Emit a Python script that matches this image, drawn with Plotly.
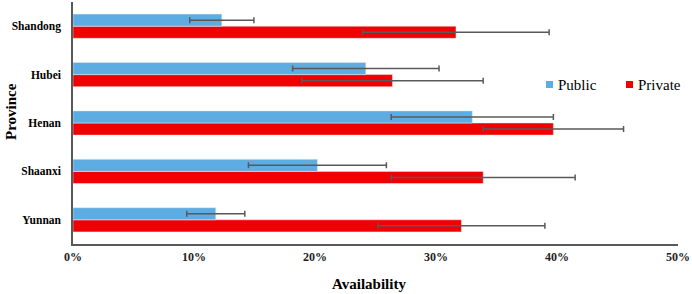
import plotly.graph_objects as go

provinces = ["Yunnan", "Shaanxi", "Henan", "Hubei", "Shandong"]
public_vals = [11.8, 20.2, 33.0, 24.2, 12.3]
public_err = [2.4, 5.7, 6.7, 6.05, 2.65]
private_vals = [32.1, 33.9, 39.7, 26.4, 31.65]
private_err = [6.9, 7.6, 5.8, 7.5, 7.7]
x_ticks = [0, 10, 20, 30, 40, 50]
x_tick_labels = ["0%", "10%", "20%", "30%", "40%", "50%"]
series_names = ["Public", "Private"]
series_colors = ["#5DADE2", "#F00000"]

serif = "Liberation Serif"
err_color = "#595959"

W, H = 692, 294
ML, MR, MT, MB = 73, 14, 2, 50

fig = go.Figure()
fig.add_trace(go.Bar(
    y=provinces, x=private_vals, name=series_names[1], orientation="h",
    marker=dict(color=series_colors[1]),
    error_x=dict(type="data", array=private_err, color=err_color, thickness=1.5, width=3),
    showlegend=False,
))
fig.add_trace(go.Bar(
    y=provinces, x=public_vals, name=series_names[0], orientation="h",
    marker=dict(color=series_colors[0]),
    error_x=dict(type="data", array=public_err, color=err_color, thickness=1.5, width=3),
    showlegend=False,
))

# manual legend (paper coordinates computed from pixel positions)
pw, ph = W - ML - MR, H - MT - MB
def px(x):
    return (x - ML) / pw
def py(y):
    return (H - MB - y) / ph

legend_items = [(546, series_names[0], series_colors[0]), (626, series_names[1], series_colors[1])]
for sx, name, col in legend_items:
    fig.add_shape(type="rect", xref="paper", yref="paper",
                  x0=px(sx), x1=px(sx + 7), y0=py(88), y1=py(81),
                  fillcolor=col, line=dict(width=0))
    fig.add_annotation(xref="paper", yref="paper", x=px(sx + 10), y=py(84.5),
                       xanchor="left", yanchor="middle", text=name, showarrow=False,
                       font=dict(family=serif, size=15, color="black"))

fig.add_annotation(xref="paper", yref="paper", x=px(369), y=py(284),
                   xanchor="center", yanchor="middle", text="<b>Availability</b>", showarrow=False,
                   font=dict(family=serif, size=15, color="black"))
fig.add_annotation(xref="paper", yref="paper", x=px(11), y=py(112),
                   xanchor="center", yanchor="middle", text="<b>Province</b>", showarrow=False,
                   textangle=-90, font=dict(family=serif, size=15, color="black"))

fig.update_layout(
    width=W, height=H,
    margin=dict(l=ML, r=MR, t=MT, b=MB),
    paper_bgcolor="white", plot_bgcolor="white",
    barmode="group", bargap=0.5, bargroupgap=0,
    font=dict(family=serif, color="black"),
    showlegend=False,
    xaxis=dict(range=[0, 50], tickvals=x_ticks, ticktext=["<b>%s</b>" % t for t in x_tick_labels],
               showgrid=False, zeroline=False, showline=True, linecolor=err_color, linewidth=1.5,
               ticks="", tickfont=dict(family=serif, size=12, color="#222"),
               ticklabelstandoff=1, automargin=False),
    yaxis=dict(showgrid=False, zeroline=False, showline=True, linecolor=err_color, linewidth=1.5,
               ticks="", tickfont=dict(family=serif, size=11.5, color="black"),
               ticklabelstandoff=8, automargin=False,
               tickvals=provinces, ticktext=["<b>%s</b>" % p for p in provinces]),
)

fig.write_html("out.html", config={"displayModeBar": False},
               post_script="document.body.style.margin='0';document.body.style.padding='0';")
